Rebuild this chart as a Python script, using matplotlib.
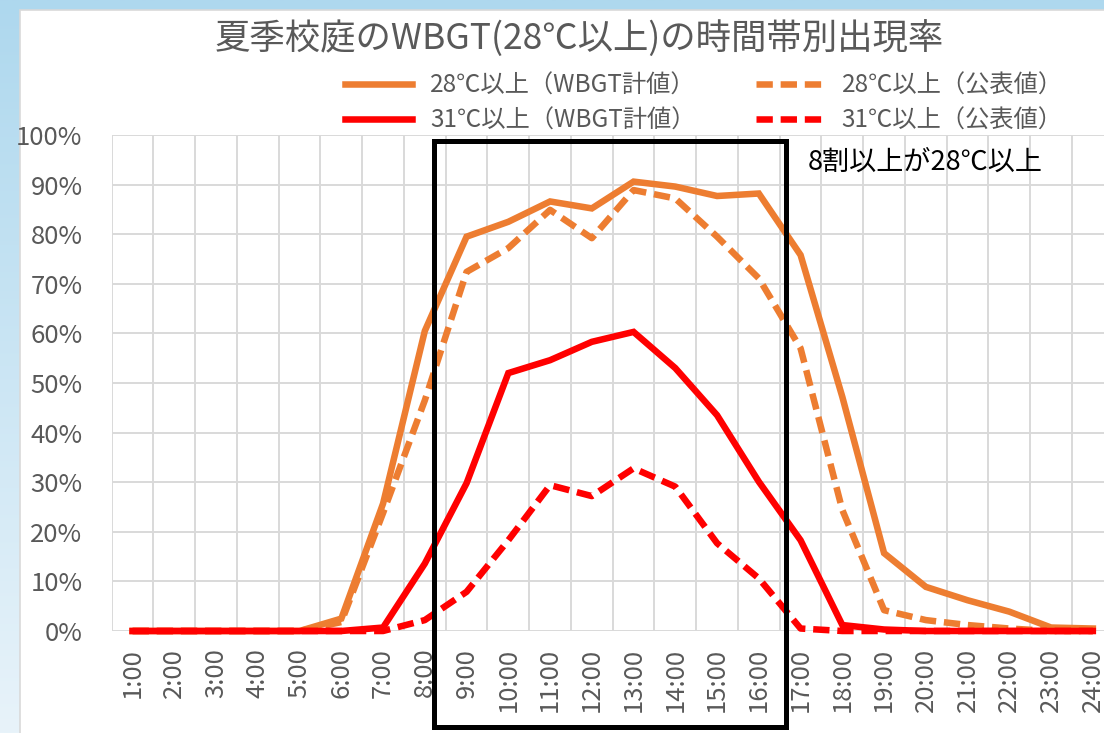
import numpy as np
import matplotlib
matplotlib.use("Agg")
import matplotlib.pyplot as plt
import matplotlib.transforms as mtransforms
from matplotlib.patches import Rectangle
from matplotlib.colors import LinearSegmentedColormap

# ---------------- data ----------------
hours = list(range(1, 25))
hour_labels = [f"{h}:00" for h in hours]

t28_calc = [0, 0, 0, 0, 0, 2.5, 25.7, 60.5, 79.5, 82.5, 86.6, 85.2,
            90.6, 89.6, 87.7, 88.2, 75.8, 47.2, 15.7, 8.9, 6.2, 3.9, 0.7, 0.5]
t28_pub = [0, 0, 0, 0, 0, 1.8, 23.8, 46.5, 72.4, 77.2, 84.9, 79.2,
           88.9, 87.2, 79.5, 71.1, 57.0, 24.4, 4.2, 2.2, 1.2, 0.5, 0, 0]
t31_calc = [0, 0, 0, 0, 0, 0, 0.7, 13.6, 29.8, 52.0, 54.6, 58.3,
            60.3, 53.0, 43.5, 30.1, 18.3, 1.2, 0.3, 0, 0, 0, 0, 0]
t31_pub = [0, 0, 0, 0, 0, 0, 0, 2.2, 7.9, 18.3, 29.4, 27.2,
           32.8, 29.1, 17.7, 10.6, 0.5, 0, 0, 0, 0, 0, 0, 0]

yticks = list(range(0, 101, 10))
ytick_labels = [f"{v}%" for v in yticks]

title = "夏季校庭のWBGT(28℃以上)の時間帯別出現率"
labels = ["28℃以上（WBGT計値）", "31℃以上（WBGT計値）",
          "28℃以上（公表値）", "31℃以上（公表値）"]
note = "8割以上が28℃以上"

# ---------------- style ----------------
W, H, DPI = 1104, 733, 100
ORANGE = "#ED7D31"
RED = "#FF0000"
GRID = "#D9D9D9"
TXT = "#595959"
JP = ["Noto Sans CJK JP", "DejaVu Sans"]

fig = plt.figure(figsize=(W / DPI, H / DPI), dpi=DPI)

# background: blue frame with gradient + white chart area
bg = fig.add_axes([0, 0, 1, 1], zorder=-10)
bg.set_xlim(0, W)
bg.set_ylim(H, 0)
bg.axis("off")
cmap = LinearSegmentedColormap.from_list("bgc", ["#AED8EE", "#E8F3FA"])
grad = np.linspace(0, 1, 256).reshape(-1, 1)
bg.imshow(grad, cmap=cmap, extent=[0, W, H, 0], aspect="auto")
bg.add_patch(Rectangle((20, 10), W, H, facecolor="white", edgecolor=GRID, lw=1.2))

# main axes (plot area extends slightly past right edge like the reference)
left_px, top_px, bottom_px = 111.7, 135.0, 631.0
step = 41.75
ax = fig.add_axes([left_px / W, (H - bottom_px) / H,
                   24 * step / W, (bottom_px - top_px) / H])
ax.set_facecolor("none")
ax.set_xlim(0.5, 24.5)
ax.set_ylim(0, 100)

# grid
for b in np.arange(0.5, 25, 1.0):
    ax.axvline(b, color=GRID, lw=1.4, zorder=0)
for v in yticks:
    ax.axhline(v, color=GRID, lw=1.4, zorder=0)
for s in ax.spines.values():
    s.set_visible(False)

lw = 4.7
dash = (2.5, 1.2)
l1, = ax.plot(hours, t28_calc, color=ORANGE, lw=lw, label=labels[0], zorder=2,
              clip_on=False, solid_joinstyle="miter")
l3, = ax.plot(hours, t28_pub, color=ORANGE, lw=lw, ls=(0, dash), label=labels[2],
              zorder=2, clip_on=False)
l2, = ax.plot(hours, t31_calc, color=RED, lw=lw, label=labels[1], zorder=3,
              clip_on=False, solid_joinstyle="miter")
l4, = ax.plot(hours, t31_pub, color=RED, lw=lw, ls=(0, dash), label=labels[3],
              zorder=3, clip_on=False)

ax.set_xticks(hours)
ax.set_xticklabels(hour_labels, rotation=90, family=JP, fontsize=18.5, color=TXT)
shift = mtransforms.ScaledTranslation(-4 / DPI, 0, fig.dpi_scale_trans)
for t in ax.get_xticklabels():
    t.set_transform(t.get_transform() + shift)
ax.set_yticks(yticks)
ax.set_yticklabels(ytick_labels, family=JP, fontsize=18.5, color=TXT)
ax.tick_params(axis="both", length=0)
ax.tick_params(axis="x", pad=12)
ax.tick_params(axis="y", pad=21)

# highlight box (annotation)
BOX_X0, BOX_X1 = 8.22, 16.65
BOX_Y0, BOX_Y1 = -19.4, 98.8
ax.add_patch(Rectangle((BOX_X0, BOX_Y0), BOX_X1 - BOX_X0, BOX_Y1 - BOX_Y0,
                       fill=False, ec="black", lw=3.6, clip_on=False, zorder=6))

# title
fig.text(579 / W, 1 - 39 / H, title, ha="center", va="center",
         family=JP, fontsize=25.5, color=TXT)

# legend
leg = fig.legend(handles=[l1, l2, l3, l4], labels=labels, ncol=2,
                 loc="upper left", bbox_to_anchor=(345 / W, 1 - 73 / H),
                 frameon=False, borderpad=0, borderaxespad=0,
                 handlelength=2.75, handletextpad=0.75, columnspacing=2.5,
                 labelspacing=0.35, prop={"family": JP, "size": 17.5})
for t in leg.get_texts():
    t.set_color(TXT)

# note
fig.text(808 / W, 1 - 162 / H, note, ha="left", va="center",
         family=JP, fontsize=19.5, color="black")

fig.savefig("out.png", dpi=DPI)
